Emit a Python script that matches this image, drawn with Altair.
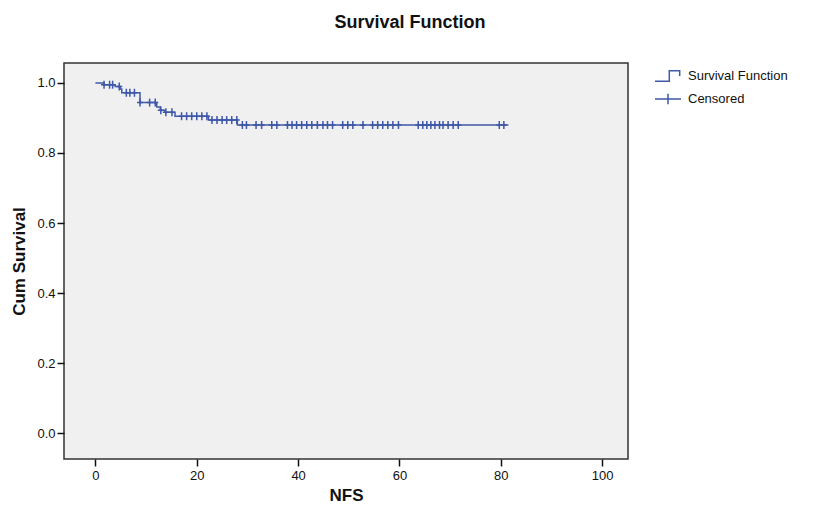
import altair as alt
import pandas as pd

# Kaplan-Meier step curve (time, cumulative survival)
event_times = [0, 1.7, 3.9, 4.9, 5.2, 8.8, 12.1, 12.8, 13.7, 15.7, 22.3, 28.0, 81.5]
survival = [1.0, 0.995, 0.990, 0.983, 0.972, 0.944, 0.931, 0.922, 0.916, 0.905, 0.894, 0.880, 0.880]

# Censored observation times
censor_times = [1.7, 2.8, 3.4, 4.7, 6.1, 6.8, 7.7, 8.8, 10.7, 11.8, 12.9, 13.9, 15.1,
                17.0, 18.0, 19.0, 20.0, 21.0, 22.0, 23.0, 24.0, 25.0, 25.9, 26.9, 27.9,
                29.0, 29.8, 31.7, 32.8, 34.8, 35.8, 37.9, 38.8, 39.7, 40.7, 41.7, 42.7,
                43.8, 44.9, 45.8, 46.8, 48.8, 49.8, 50.8, 52.8, 54.7, 55.7, 56.7, 57.7,
                58.7, 59.8, 63.7, 64.6, 65.4, 66.2, 67.0, 67.9, 68.6, 69.6, 70.6, 71.6,
                79.7, 80.6]

x_ticks = [0, 20, 40, 60, 80, 100]
y_ticks = [0.0, 0.2, 0.4, 0.6, 0.8, 1.0]
legend_labels = ["Survival Function", "Censored"]

BLUE = "#3F58A8"
FONT = "Liberation Sans"


def surv_at(t):
    s = survival[0]
    for et, sv in zip(event_times, survival):
        if et <= t:
            s = sv
    return s


line_df = pd.DataFrame({"t": event_times, "s": survival})
cens_df = pd.DataFrame({"t": censor_times,
                        "s": [surv_at(t) for t in censor_times],
                        "type": ["Censored"] * len(censor_times)})

x_enc = alt.X("t:Q",
              scale=alt.Scale(domain=[-6.2, 105.1], nice=False, zero=False),
              axis=alt.Axis(values=x_ticks, title="NFS", grid=False, domain=False,
                            tickSize=7, tickColor="#111", tickWidth=1.5,
                            labelFont=FONT, labelFontSize=13, labelColor="#111",
                            labelPadding=3, titleFont=FONT, titleFontSize=17,
                            titleFontWeight="bold", titleColor="#111", titlePadding=5))
y_enc = alt.Y("s:Q",
              scale=alt.Scale(domain=[-0.074, 1.057], nice=False, zero=False),
              axis=alt.Axis(values=y_ticks, format=".1f", title="Cum Survival", grid=False,
                            domain=False, tickSize=7, tickColor="#111", tickWidth=1.5,
                            labelFont=FONT, labelFontSize=13, labelColor="#111",
                            labelPadding=2, titleFont=FONT, titleFontSize=17,
                            titleFontWeight="bold", titleColor="#111", titlePadding=8))

line = alt.Chart(line_df).mark_line(interpolate="step-after", color=BLUE,
                                    strokeWidth=1.5).encode(x=x_enc, y=y_enc)

STEP_PATH = "M-1,0.4H0.1V-0.4H0.9V0"
HBAR_PATH = "M-1,0H1M0,-0.4V0.4"

legend_pts = alt.Chart(cens_df).mark_point(filled=False, color=BLUE, size=36,
                                           strokeWidth=1.5, opacity=1).encode(
    x=x_enc, y=y_enc,
    shape=alt.Shape("type:N",
                    scale=alt.Scale(domain=legend_labels, range=[STEP_PATH, HBAR_PATH]),
                    legend=alt.Legend(title=None, orient="none", legendX=590, legendY=-1,
                                      symbolSize=676, symbolStrokeWidth=1.5,
                                      symbolStrokeColor=BLUE, symbolFillColor="transparent",
                                      labelFont=FONT, labelFontSize=13, labelColor="#111",
                                      labelOffset=6, rowPadding=-17)))

ticks = alt.Chart(cens_df).mark_point(shape="M0,-1V1", filled=False, color=BLUE, size=64,
                                      strokeWidth=1.5, opacity=1).encode(x=x_enc, y=y_enc)

chart = alt.layer(line, legend_pts, ticks).properties(
    width=564, height=396,
    autosize=alt.AutoSizeParams(type="none"),
    padding={"left": 56, "top": 55, "right": 176, "bottom": 52},
    title=alt.TitleParams("Survival Function", font=FONT, fontSize=18, fontWeight="bold",
                          color="#111", anchor="middle", frame="group", dx=64, offset=30),
).configure(background="white").configure_view(fill="#F0F0F0", stroke="#333333",
                                                strokeWidth=1.5)

chart.save("out.html", embed_options={"renderer": "svg", "actions": False})
